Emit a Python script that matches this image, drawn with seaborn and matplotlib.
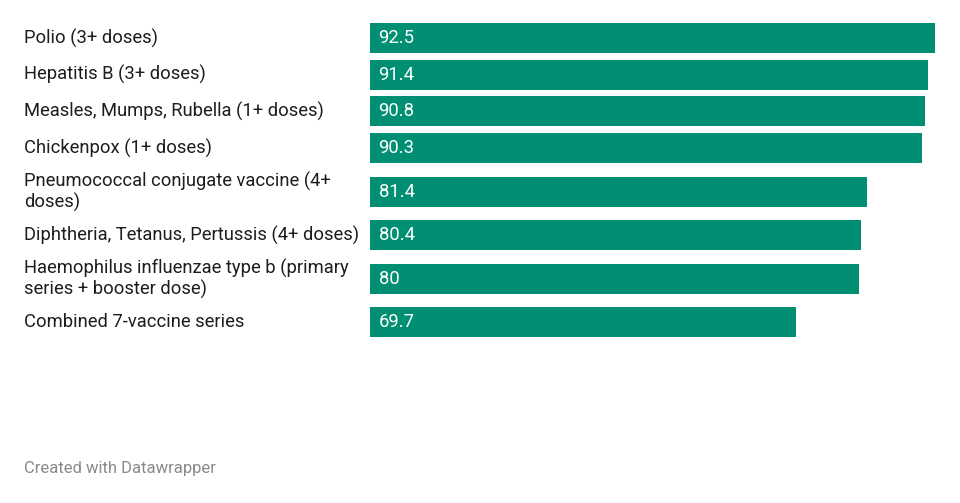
import matplotlib
matplotlib.use("Agg")
import matplotlib.pyplot as plt
import seaborn as sns
import numpy as np

vaccines = [
    "Polio (3+ doses)",
    "Hepatitis B (3+ doses)",
    "Measles, Mumps, Rubella (1+ doses)",
    "Chickenpox (1+ doses)",
    "Pneumococcal conjugate vaccine (4+\ndoses)",
    "Diphtheria, Tetanus, Pertussis (4+ doses)",
    "Haemophilus influenzae type b (primary\nseries + booster dose)",
    "Combined 7-vaccine series",
]
coverage = [92.5, 91.4, 90.8, 90.3, 81.4, 80.4, 80, 69.7]

W, H = 960, 503
bar_color = "#008f72"

sns.set_style("white")
plt.rcParams["font.family"] = ["Roboto", "DejaVu Sans"]

fig = plt.figure(figsize=(W / 100, H / 100), dpi=100)
ax = fig.add_axes([370 / W, 0, 565 / W, 1])

# row heights in pixels: single line rows are tighter than wrapped ones
row_h = [36.7 if "\n" not in v else 50.3 for v in vaccines]
centers = [38.0]
for i in range(1, len(vaccines)):
    centers.append(centers[-1] + (row_h[i - 1] + row_h[i]) / 2)
centers = np.array(centers)
min_pitch = np.diff(centers).min()

sns.barplot(x=coverage, y=centers, orient="y", native_scale=True,
            width=30 / min_pitch, color=bar_color, saturation=1,
            linewidth=0, ax=ax)
ax.set_xlim(0, 92.5)
ax.set_ylim(H, 0)
ax.axis("off")

for val, c, name in zip(coverage, centers, vaccines):
    ax.text(1.4, c, f"{val:g}", color="white", fontsize=13.3,
            va="center", ha="left")
    fig.text(24 / W, 1 - c / H, name, fontsize=13.2, color="#1d1d1d",
             va="center", ha="left", linespacing=1.1)

fig.text(24 / W, 1 - 469 / H, "Created with Datawrapper", fontsize=12,
         color="#8a8a8a", va="center", ha="left")

fig.savefig("out.png", dpi=100, facecolor="white")
